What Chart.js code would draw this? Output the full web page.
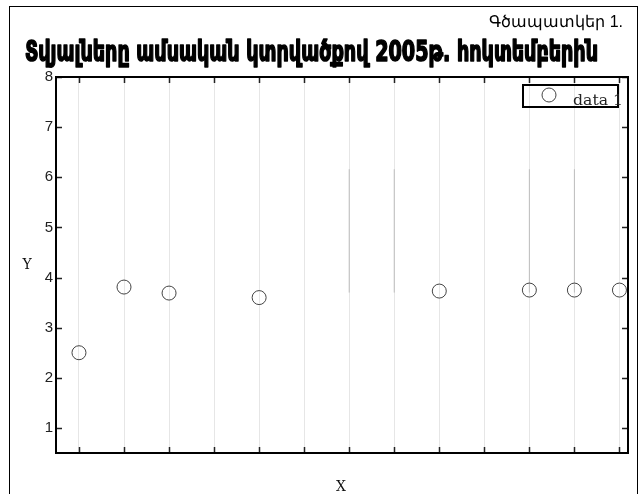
<!DOCTYPE html>
<html>
<head>
<meta charset="utf-8">
<script src="https://cdn.jsdelivr.net/npm/chart.js@4"></script>
<style>
  html, body { margin: 0; padding: 0; background: #fff; }
  #chart { display: block; }
</style>
</head>
<body>
<canvas id="chart" width="640" height="494"></canvas>
<script>
// data
const xValues = [1, 2, 3, 5, 9, 11, 12, 13];
const yValues = [2.5, 3.81, 3.69, 3.6, 3.73, 3.75, 3.75, 3.75];
const stemX = [7, 8, 11, 12];
const stemLow = [3.7, 3.7, 3.7, 3.7];
const stemHigh = [6.16, 6.16, 6.16, 6.16];
const xTicks = [1, 2, 3, 4, 5, 6, 7, 8, 9, 10, 11, 12, 13];
const yTicks = [1, 2, 3, 4, 5, 6, 7, 8];
const xRange = [0.49, 13.19];
const yRange = [0.5, 8];

const titleText = 'Տվյալները ամսական կտրվածքով 2005թ. հոկտեմբերին';
const subText = 'Գծապատկեր 1.';
const seriesName = 'data 1';

const points = xValues.map((x, i) => ({ x: x, y: yValues[i] }));
const stems = [];
stemX.forEach((x, i) => {
    stems.push({ x: x, y: stemLow[i] }, { x: x, y: stemHigh[i] }, { x: x + 0.01, y: null });
});

const decor = {
    id: 'decor',
    beforeDraw(chart) {
        const ctx = chart.ctx;
        ctx.save();
        ctx.fillStyle = '#fff';
        ctx.fillRect(0, 0, chart.width, chart.height);
        ctx.strokeStyle = '#000';
        ctx.lineWidth = 1;
        ctx.strokeRect(9.5, 6.5, 628, 500);
        ctx.restore();
    },
    afterDraw(chart) {
        const ctx = chart.ctx;
        const a = chart.chartArea;
        const xs = chart.scales.x, ys = chart.scales.y;
        ctx.save();

        // inward ticks
        ctx.strokeStyle = '#222';
        ctx.lineWidth = 1.5;
        ctx.beginPath();
        xTicks.forEach(t => {
            const px = Math.round(xs.getPixelForValue(t)) + 0.5;
            ctx.moveTo(px, a.bottom); ctx.lineTo(px, a.bottom - 6);
            ctx.moveTo(px, a.top); ctx.lineTo(px, a.top + 6);
        });
        yTicks.forEach(t => {
            const py = Math.round(ys.getPixelForValue(t)) + 0.5;
            ctx.moveTo(a.left, py); ctx.lineTo(a.left + 6, py);
            ctx.moveTo(a.right, py); ctx.lineTo(a.right - 6, py);
        });
        ctx.stroke();

        // plot frame
        ctx.strokeStyle = '#000';
        ctx.lineWidth = 2;
        ctx.strokeRect(a.left, a.top, a.right - a.left, a.bottom - a.top);

        // title, squeezed to its width in the picture
        ctx.fillStyle = '#000';
        ctx.strokeStyle = '#000';
        ctx.textBaseline = 'alphabetic';
        ctx.font = 'bold 29px "DejaVu Sans Condensed", "DejaVu Sans"';
        const w = ctx.measureText(titleText).width;
        ctx.save();
        ctx.translate(25, 61);
        ctx.scale(573 / w, 1);
        ctx.textAlign = 'left';
        ctx.lineWidth = 1.6;
        ctx.lineJoin = 'round';
        ctx.fillText(titleText, 0, 0);
        ctx.strokeText(titleText, 0, 0);
        ctx.restore();

        ctx.font = '16px "Liberation Sans", Arial, sans-serif';
        ctx.textAlign = 'right';
        ctx.fillText(subText, 623, 27);

        // axis titles
        ctx.font = '14px "DejaVu Serif", "Liberation Serif", serif';
        ctx.textAlign = 'center';
        ctx.textBaseline = 'middle';
        ctx.fillStyle = '#111';
        ctx.fillText('Y', 27, 265);
        ctx.fillText('X', 341, 487);

        // legend box
        ctx.lineWidth = 2;
        ctx.strokeStyle = '#000';
        ctx.strokeRect(523, 85, 95, 22);
        ctx.lineWidth = 1;
        ctx.strokeStyle = '#444';
        ctx.beginPath();
        ctx.arc(549, 95, 7, 0, Math.PI * 2);
        ctx.stroke();
        ctx.fillStyle = '#222';
        ctx.textAlign = 'left';
        ctx.textBaseline = 'alphabetic';
        ctx.font = '14px "DejaVu Serif", "Liberation Serif", serif';
        const lw = ctx.measureText(chart.data.datasets[0].label).width;
        ctx.save();
        ctx.translate(573, 105);
        ctx.scale(50 / lw, 1);
        ctx.fillText(chart.data.datasets[0].label, 0, 0);
        ctx.restore();
        ctx.restore();
    }
};

new Chart(document.getElementById('chart'), {
    type: 'scatter',
    data: {
        datasets: [
            { label: seriesName, data: points, pointStyle: 'circle', pointRadius: 7, pointHoverRadius: 7,
              borderColor: '#444', borderWidth: 1, backgroundColor: 'rgba(0,0,0,0)' },
            { label: 'stems', data: stems, showLine: true, spanGaps: false, pointRadius: 0,
              borderColor: '#bdbdbd', borderWidth: 1 }
        ]
    },
    options: {
        responsive: false,
        animation: false,
        events: [],
        layout: { padding: { top: 77, right: 12, bottom: 0, left: 0 } },
        plugins: { legend: { display: false }, title: { display: false }, tooltip: { enabled: false } },
        scales: {
            x: {
                type: 'linear', min: xRange[0], max: xRange[1],
                afterBuildTicks: s => { s.ticks = xTicks.map(v => ({ value: v })); },
                afterFit: s => { s.height = 41; },
                ticks: { display: false },
                grid: { color: '#e6e6e6', drawTicks: false },
                border: { display: false }
            },
            y: {
                type: 'linear', min: yRange[0], max: yRange[1],
                afterBuildTicks: s => { s.ticks = yTicks.map(v => ({ value: v })); },
                afterFit: s => { s.width = 56; },
                ticks: { color: '#222', padding: 3, font: { family: '"Liberation Sans", Arial, sans-serif', size: 15 } },
                grid: { display: false, drawTicks: false },
                border: { display: false }
            }
        }
    },
    plugins: [decor]
});
</script>
</body>
</html>
